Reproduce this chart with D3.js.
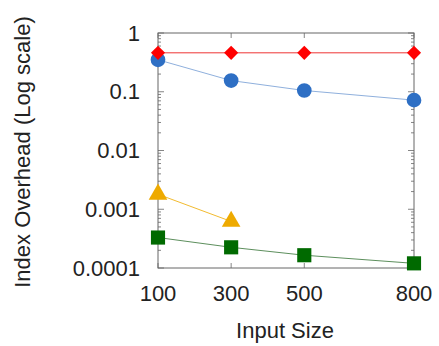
<!DOCTYPE html>
<html>
<head>
<meta charset="utf-8">
<script src="https://cdn.jsdelivr.net/npm/d3@7"></script>
<style>
  body { margin: 0; background: #fff; }
  text { font-family: "Liberation Sans", Arial, sans-serif; fill: #222; }
</style>
</head>
<body>
<svg id="chart" width="439" height="346"></svg>
<script>
// data
let inputSizes = [100, 300, 500, 800];
let redSeries = [0.46, 0.46, 0.46, 0.46];
let blueSeries = [0.35, 0.155, 0.105, 0.072];
let orangeSeries = [0.0018, 0.00062];  // only 100 and 300
let greenSeries = [0.00033, 0.000225, 0.000165, 0.00012];
let yTicks = [1, 0.1, 0.01, 0.001, 0.0001];
let yTickLabels = ["1", "0.1", "0.01", "0.001", "0.0001"];

let margin = {left: 158, right: 25, top: 33, bottom: 78};
let width = 439 - margin.left - margin.right;
let height = 346 - margin.top - margin.bottom;

let svg = d3.select("#chart");
let g = svg.append("g").attr("transform", `translate(${margin.left}, ${margin.top})`);

let x = d3.scaleLinear().domain([100, 800]).range([0, width]);
let y = d3.scaleLog().domain([0.0001, 1]).range([height, 0]);

// minor ticks on left and right
let minor = [];
for (let e = -4; e < 0; e++) {
	for (let k = 2; k <= 9; k++) minor.push(k * Math.pow(10, e));
}

let frameColor = "#666";

[0, width].forEach((xx, side) => {
	let dir = side === 0 ? 1 : -1;
	g.selectAll(null).data(minor).enter().append("line")
		.attr("x1", xx).attr("x2", xx + dir * 3)
		.attr("y1", d => y(d)).attr("y2", d => y(d))
		.attr("stroke", frameColor).attr("stroke-width", 0.8);
	g.selectAll(null).data(yTicks).enter().append("line")
		.attr("x1", xx).attr("x2", xx + dir * 6)
		.attr("y1", d => y(d)).attr("y2", d => y(d))
		.attr("stroke", frameColor).attr("stroke-width", 0.8);
});

[0, height].forEach((yy, side) => {
	let dir = side === 0 ? 1 : -1;
	g.selectAll(null).data(inputSizes).enter().append("line")
		.attr("x1", d => x(d)).attr("x2", d => x(d))
		.attr("y1", yy).attr("y2", yy + dir * 5)
		.attr("stroke", frameColor).attr("stroke-width", 0.8);
});

g.append("rect")
	.attr("width", width).attr("height", height)
	.attr("fill", "none").attr("stroke", frameColor).attr("stroke-width", 1);

// tick labels
g.selectAll(".ylab").data(yTicks).enter().append("text")
	.attr("class", "ylab")
	.attr("x", -18).attr("y", d => y(d))
	.attr("dy", "0.35em")
	.attr("text-anchor", "end")
	.style("font-size", "22px")
	.text((d, i) => yTickLabels[i]);

g.selectAll(".xlab").data(inputSizes).enter().append("text")
	.attr("class", "xlab")
	.attr("x", d => x(d)).attr("y", 301 - margin.top)
	.attr("text-anchor", "middle")
	.style("font-size", "22px")
	.text(d => d);

svg.append("text")
	.attr("x", 285).attr("y", 338)
	.attr("text-anchor", "middle")
	.style("font-size", "22px")
	.text("Input Size");

svg.append("text")
	.attr("transform", `translate(30, 152) rotate(-90)`)
	.attr("text-anchor", "middle")
	.style("font-size", "22px")
	.text("Index Overhead (Log scale)");

let line = d3.line().x(d => x(d[0])).y(d => y(d[1]));

// diamond as a square turned 45 degrees, about as wide as tall
let diamond = {
	draw: function(ctx, size) {
		let r = Math.sqrt(size / 2);
		ctx.moveTo(0, -r); ctx.lineTo(r, 0); ctx.lineTo(0, r); ctx.lineTo(-r, 0); ctx.closePath();
	}
};

function drawSeries(values, lineColor, fill, symbol, size) {
	let pts = values.map((v, i) => [inputSizes[i], v]);
	g.append("path").datum(pts)
		.attr("d", line)
		.attr("fill", "none")
		.attr("stroke", lineColor)
		.attr("stroke-width", 1);
	g.selectAll(null).data(pts).enter().append("path")
		.attr("transform", d => `translate(${x(d[0])}, ${y(d[1])})`)
		.attr("d", d3.symbol().type(symbol).size(size))
		.attr("fill", fill);
}

drawSeries(greenSeries, "#5d8f5d", "#006a00", d3.symbolSquare, 200);
drawSeries(orangeSeries, "#f2bb30", "#eeaa00", d3.symbolTriangle, 150);
drawSeries(blueSeries, "#8fb0dd", "#2e6fc4", d3.symbolCircle, 170);
drawSeries(redSeries, "#ee3333", "#ff0000", diamond, 100);
</script>
</body>
</html>
